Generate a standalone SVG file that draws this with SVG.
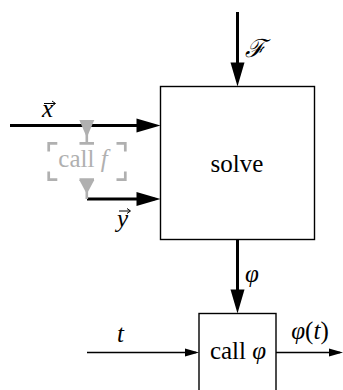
<svg xmlns="http://www.w3.org/2000/svg" width="343" height="390" viewBox="0 0 343 390">
<style>
  text { font-family: 'Liberation Serif', 'Times New Roman', serif; font-size: 25px; fill: #000; }
  .it { font-style: italic; }
  .box { fill: #fff; stroke: #000; stroke-width: 1.4; }
  .thick { stroke: #000; stroke-width: 3; fill: none; }
  .thin { stroke: #000; stroke-width: 1.3; fill: none; }
  .acc { stroke: #000; stroke-width: 1; fill: none; }
  .gray { stroke: #b0b0b0; fill: none; }
  .grayfill { fill: #b0b0b0; }
  .graytext { fill: #b0b0b0; }
</style>
<defs>
  <marker id="headThick" markerUnits="userSpaceOnUse" markerWidth="24" markerHeight="14" refX="18" refY="7" orient="auto" overflow="visible">
    <path d="M0,0 L24,7 L0,14 z" fill="#000"/>
  </marker>
  <marker id="headThin" markerUnits="userSpaceOnUse" markerWidth="14" markerHeight="8" refX="11" refY="4" orient="auto" overflow="visible">
    <path d="M0,0 L14,4 L0,8 z" fill="#000"/>
  </marker>
</defs>
<rect width="343" height="390" fill="#fff"/>

<g id="solve">
  <rect class="box" x="160.5" y="86.5" width="154" height="153"/>
  <text x="237" y="172" text-anchor="middle">solve</text>
</g>

<g id="call_phi">
  <rect class="box" x="199" y="313.5" width="77" height="82"/>
  <text x="238" y="359" text-anchor="middle">call <tspan class="it">φ</tspan></text>
</g>

<g id="connectors">
  <g id="edge_F">
    <line class="thick" x1="237.5" y1="12" x2="237.5" y2="80.5" marker-end="url(#headThick)"/>
    <text class="it" x="245" y="57">ℱ</text>
  </g>
  <g id="edge_x">
    <line class="thick" x1="10" y1="125.5" x2="154.5" y2="125.5" marker-end="url(#headThick)"/>
    <text class="it" x="42" y="117">x</text>
    <path class="acc" d="M44,103.5 H55 M52,101 L55.5,103.5 L52,106"/>
  </g>
  <g id="edge_y">
    <line class="thick" x1="87" y1="199" x2="154.5" y2="199" marker-end="url(#headThick)"/>
    <text class="it" x="117" y="227">y</text>
    <path class="acc" d="M119,211 H130 M127,208.5 L130.5,211 L127,213.5"/>
  </g>
  <g id="edge_phi">
    <line class="thick" x1="237.5" y1="239.5" x2="237.5" y2="307.5" marker-end="url(#headThick)"/>
    <text class="it" x="245" y="282">φ</text>
  </g>
  <g id="edge_t">
    <line class="thin" x1="87" y1="352.5" x2="196" y2="352.5" marker-end="url(#headThin)"/>
    <text class="it" x="117" y="342">t</text>
  </g>
  <g id="edge_out">
    <line class="thin" x1="276" y1="352.5" x2="340" y2="352.5" marker-end="url(#headThin)"/>
    <text x="310" y="339" text-anchor="middle"><tspan class="it">φ</tspan>(<tspan class="it">t</tspan>)</text>
  </g>
</g>

<g id="call_f">
  <line class="gray" stroke-width="2.6" x1="86.8" y1="125" x2="86.8" y2="143"/>
  <polygon class="grayfill" points="79.3,120 94.3,120 86.8,137.5"/>
  <line class="gray" stroke-width="2.6" x1="86.8" y1="179" x2="86.8" y2="199"/>
  <polygon class="grayfill" points="79.3,180 94.3,180 86.8,194"/>
  <path class="gray" stroke-width="2.7" d="M48.7,151.5 V143.3 H57.3 M116.5,143.3 H125.3 V151.5 M125.3,171.5 V179.7 H116.5 M57.3,179.7 H48.7 V171.5 M79.5,143.3 H94 M79.5,179.7 H94"/>
  <text class="graytext" x="83" y="167" text-anchor="middle">call <tspan class="it">f</tspan></text>
</g>
</svg>
